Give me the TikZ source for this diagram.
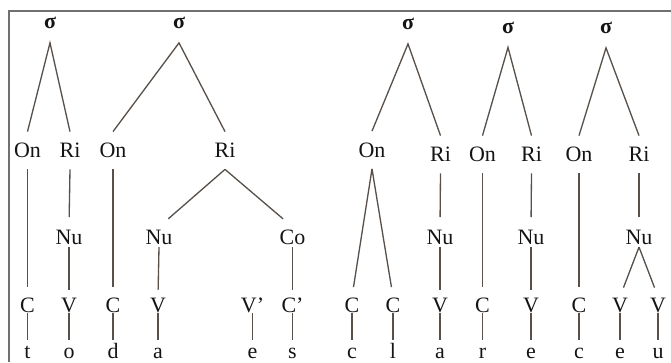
\documentclass[tikz,border=0pt]{standalone}
\usepackage{fontspec}
\setmainfont{Liberation Serif}
\usepackage{tikz}

\definecolor{stem}{RGB}{88,80,74}
\definecolor{rule}{RGB}{112,112,112}

\tikzset{
	lab/.style={inner sep=0pt, text height=8.5pt, text depth=0pt, text=black!92, font=\fontsize{12.5}{14}\selectfont},
	syl/.style={lab, text height=5.5pt, outer sep=8pt, font=\fontsize{12.5}{14}\selectfont\bfseries},
	con/.style={lab, outer sep=6.5pt},
	sub/.style={lab, outer sep=1.5pt},
	seg/.style={lab, outer sep=0.5pt},
	arm/.style={draw=stem, line width=0.75pt, shorten >=#1},
	arm/.default=0pt,
}

\begin{document}
\begin{tikzpicture}
			%%%%% START %%%%%
			
			\useasboundingbox (0, 0) rectangle (13.42, 7.24);
			\draw[rule, line width=0.8pt] (0.18, 0) -- (0.18, 7.02) -- (13.42, 7.02);
			
			% syllables
			\node[syl] (s1) at (1.00, 6.76) {σ};
			\node[syl] (s2) at (3.58, 6.76) {σ};
			\node[syl] (s3) at (8.16, 6.74) {σ};
			\node[syl] (s4) at (10.16, 6.67) {σ};
			\node[syl] (s5) at (12.12, 6.66) {σ};
			
			% onsets and rimes
			\node[con] (on1) at (0.55, 4.23) {On};
			\node[con] (ri1) at (1.40, 4.23) {Ri};
			\node[con] (on2) at (2.26, 4.23) {On};
			\node[con] (ri2) at (4.50, 4.23) {Ri};
			\node[con] (on3) at (7.44, 4.24) {On};
			\node[con] (ri3) at (8.81, 4.15) {Ri};
			\node[con] (on4) at (9.65, 4.15) {On};
			\node[con] (ri4) at (10.63, 4.15) {Ri};
			\node[con] (on5) at (11.58, 4.15) {On};
			\node[con] (ri5) at (12.78, 4.15) {Ri};
			
			% nuclei and coda
			\node[sub] (nu1) at (1.38, 2.50) {Nu};
			\node[sub] (nu2) at (3.18, 2.50) {Nu};
			\node[sub] (co2) at (5.85, 2.50) {Co};
			\node[sub] (nu3) at (8.80, 2.50) {Nu};
			\node[sub] (nu4) at (10.62, 2.50) {Nu};
			\node[sub] (nu5) at (12.78, 2.50) {Nu};
			
			% skeleton
			\node[seg] (k1) at (0.55, 1.14) {C};
			\node[seg] (k2) at (1.38, 1.14) {V};
			\node[seg] (k3) at (2.26, 1.14) {C};
			\node[seg] (k4) at (3.16, 1.14) {V};
			\node[seg] (k5) at (5.05, 1.14) {V’};
			\node[seg] (k6) at (5.85, 1.14) {C’};
			\node[seg] (k7) at (7.04, 1.14) {C};
			\node[seg] (k8) at (7.86, 1.14) {C};
			\node[seg] (k9) at (8.80, 1.14) {V};
			\node[seg] (k10) at (9.65, 1.14) {C};
			\node[seg] (k11) at (10.62, 1.14) {V};
			\node[seg] (k12) at (11.58, 1.14) {C};
			\node[seg] (k13) at (12.40, 1.14) {V};
			\node[seg] (k14) at (13.16, 1.14) {V};
			
			% letters
			\node[lab] (w1) at (0.55, 0.21) {t};
			\node[lab] (w2) at (1.38, 0.21) {o};
			\node[lab] (w3) at (2.26, 0.21) {d};
			\node[lab] (w4) at (3.16, 0.21) {a};
			\node[lab] (w5) at (5.05, 0.21) {e};
			\node[lab] (w6) at (5.85, 0.21) {s};
			\node[lab] (w7) at (7.04, 0.21) {c};
			\node[lab] (w8) at (7.86, 0.21) {l};
			\node[lab] (w9) at (8.80, 0.21) {a};
			\node[lab] (w10) at (9.65, 0.21) {r};
			\node[lab] (w11) at (10.62, 0.21) {e};
			\node[lab] (w12) at (11.58, 0.21) {c};
			\node[lab] (w13) at (12.40, 0.21) {e};
			\node[lab] (w14) at (13.16, 0.21) {u};
			
			% syllable branches
			\draw[arm] (on1.north) -- (s1.south) -- (ri1.north);
			\draw[arm] (on2.north) -- (s2.south) -- (ri2.north);
			\draw[arm] (on3.north) -- (s3.south) -- (ri3.north);
			\draw[arm] (on4.north) -- (s4.south) -- (ri4.north);
			\draw[arm] (on5.north) -- (s5.south) -- (ri5.north);
			
			% onsets down to the skeleton
			\draw[arm=5.5pt] (on1.south) -- (k1.north);
			\draw[arm=5.5pt] (on2.south) -- (k3.north);
			\draw[arm=5.5pt] (on3.south) -- (k7.north);
			\draw[arm=5.5pt] (on3.south) -- (k8.north);
			\draw[arm=5.5pt] (on4.south) -- (k10.north);
			\draw[arm=5.5pt] (on5.south) -- (k12.north);
			
			% rimes
			\draw[arm=5.5pt] (ri1.south) -- (nu1.north);
			\draw[arm=7pt] (ri2.south) -- (nu2.north);
			\draw[arm=7pt] (ri2.south) -- (co2.north);
			\draw[arm=5.5pt] (ri3.south) -- (nu3.north);
			\draw[arm=5.5pt] (ri4.south) -- (nu4.north);
			\draw[arm=5.5pt] (ri5.south) -- (nu5.north);
			
			% nuclei and coda
			\draw[arm=4pt] (nu1.south) -- (k2.north);
			\draw[arm=4pt] (nu2.south) -- (k4.north);
			\draw[arm=4pt] (co2.south) -- (k6.north);
			\draw[arm=4pt] (nu3.south) -- (k9.north);
			\draw[arm=4pt] (nu4.south) -- (k11.north);
			\draw[arm=5.5pt] (nu5.south) -- (k13.north);
			\draw[arm=5.5pt] (nu5.south) -- (k14.north);
			
			% skeleton to letters
			\draw[arm=2pt] (k1.south) -- (w1.north);
			\draw[arm=2pt] (k2.south) -- (w2.north);
			\draw[arm=2pt] (k3.south) -- (w3.north);
			\draw[arm=2pt] (k4.south) -- (w4.north);
			\draw[arm=2pt] (k5.south) -- (w5.north);
			\draw[arm=2pt] (k6.south) -- (w6.north);
			\draw[arm=2pt] (k7.south) -- (w7.north);
			\draw[arm=2pt] (k8.south) -- (w8.north);
			\draw[arm=2pt] (k9.south) -- (w9.north);
			\draw[arm=2pt] (k10.south) -- (w10.north);
			\draw[arm=2pt] (k11.south) -- (w11.north);
			\draw[arm=2pt] (k12.south) -- (w12.north);
			\draw[arm=2pt] (k13.south) -- (w13.north);
			\draw[arm=2pt] (k14.south) -- (w14.north);
			
			%%%%% END %%%%%
\end{tikzpicture}
\end{document}
